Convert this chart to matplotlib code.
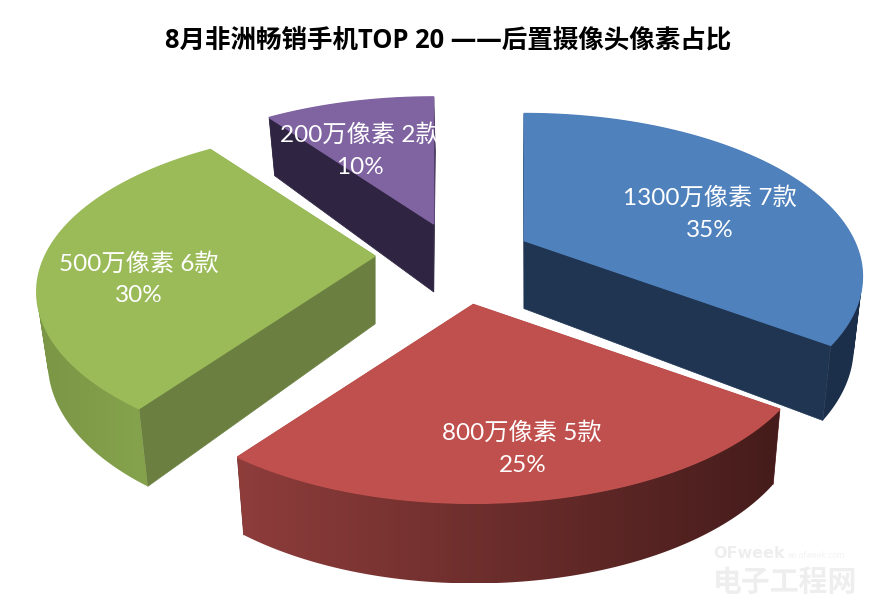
import numpy as np
import matplotlib
matplotlib.use('Agg')
import matplotlib.pyplot as plt
from matplotlib.colors import to_rgb
from matplotlib.path import Path

# Chart data
names = ['1300万像素 7款', '800万像素 5款', '500万像素 6款', '200万像素 2款']
shares = [35, 25, 30, 10]
pct_labels = ['35%', '25%', '30%', '10%']

top_colors = ['#4f81bd', '#c0504d', '#9bbb59', '#8064a2']
cut_colors = ['#1f3552', '#6e2e2c', '#6b8040', '#2f2542']
# side colours, left end and right end of the slice's outer wall
side_left = ['#1f3552', '#8e3d3b', '#7b9646', '#2f2542']
side_right = ['#1c2f4a', '#451c1b', '#8cab50', '#2f2542']

# Layout of each slice
explode = [72, 85, 85, 85]
nudge_y = [-6, 3, -6, 0]
label_r = [0.66, 0.76, 0.71, 0.75]
label_dx = [4, 2, -2, -8]
label_dy = [16, 5, 23, 22]

# Projection of the exploded pie
CX, CY = 460, 262
R = 330
TILT = 0.47
PERSP = 0.22
DEPTH = 68
SHRINK = 0.024
LABEL_FONT = ['Lato', 'Noto Sans CJK SC']


def project(apex, theta, r=1.0):
    u = r * np.sin(theta)
    v = r * np.cos(theta)
    den = 1 + PERSP * v
    return apex[0] + R * u / den, apex[1] - R * TILT * v / den, den


def drop(x, y, den):
    # lower rim of the slice, nearer points have a taller wall
    return 500 + (x - 500) * (1 - SHRINK), y + DEPTH - 55 * (den - 1)


def quad_path(pts):
    # same winding for every strip, or overlapping strips cancel out in the clip
    pts = np.array(pts)
    x, y = pts[:, 0], pts[:, 1]
    area = np.sum(x * np.roll(y, -1) - y * np.roll(x, -1))
    if area < 0:
        pts = pts[::-1]
    return Path(np.vstack([pts, pts[:1]]), closed=True)


fig = plt.figure(figsize=(8.96, 6.06), dpi=100)
ax = fig.add_axes([0, 0, 1, 1])

fractions = np.cumsum([0] + shares) / sum(shares)
order = [3, 2, 0, 1]  # back slices first
for i in order:
    t0 = 2 * np.pi * fractions[i]
    t1 = 2 * np.pi * fractions[i + 1]
    mid = (t0 + t1) / 2
    apex = (CX + explode[i] * np.sin(mid),
            CY - explode[i] * TILT * np.cos(mid) + nudge_y[i])
    thetas = np.linspace(t0, t1, 121)
    xs, ys, dens = project(apex, thetas)
    xb, yb = drop(xs, ys, dens)
    ax_, ay_ = apex
    axb, ayb = ax_, ay_ + DEPTH

    # cut faces
    for j in (0, -1):
        ax.fill([ax_, xs[j], xb[j], axb], [ay_, ys[j], yb[j], ayb],
                color=cut_colors[i], lw=0.5, zorder=2)

    # outer wall, a left to right gradient clipped to the strips of the wall
    c0 = np.array(to_rgb(side_left[i]))
    c1 = np.array(to_rgb(side_right[i]))
    grad = np.linspace(0, 1, 256)[None, :, None]
    wall_img = c0 + (c1 - c0) * grad
    strips = []
    for k in range(len(thetas) - 1):
        strips.append(quad_path([(xs[k], ys[k]), (xs[k + 1], ys[k + 1]),
                                 (xb[k + 1], yb[k + 1]), (xb[k], yb[k])]))
    img = ax.imshow(wall_img, extent=[min(xs.min(), xb.min()), max(xs.max(), xb.max()),
                                      max(ys.max(), yb.max()), min(ys.min(), yb.min())],
                    aspect='auto', zorder=3, interpolation='bilinear')
    img.set_clip_path(Path.make_compound_path(*strips), transform=ax.transData)

    # top face
    ax.fill(np.r_[ax_, xs], np.r_[ay_, ys], color=top_colors[i], lw=1, zorder=4)

    lx, ly, _ = project(apex, mid, label_r[i])
    lx += label_dx[i]
    ly += label_dy[i]
    ax.text(lx, ly - 16, names[i], color='white', fontsize=17.5, ha='center',
            va='center', family=LABEL_FONT, zorder=5)
    ax.text(lx, ly + 17, pct_labels[i], color='white', fontsize=17.5, ha='center',
            va='center', family=LABEL_FONT, zorder=5)

ax.set_xlim(0, 896)
ax.set_ylim(606, 0)
ax.axis('off')

ax.text(448, 40, '8月非洲畅销手机TOP 20 ——后置摄像头像素占比', fontsize=18.4, weight='bold',
        ha='center', va='center', color='black', family=['Open Sans', 'Noto Sans CJK SC'])

# faint watermark
ax.text(713, 554, 'OFweek', fontsize=11.5, weight='bold', color='#eeeeee', ha='left', va='center')
ax.text(788, 556, 'ee.ofweek.com', fontsize=5.5, color='#f2f2f2', ha='left', va='center')
ax.text(713, 582, '电子工程网', fontsize=20.8, weight='bold', color='#eeeeee', ha='left', va='center',
        family=['Noto Sans CJK SC'])

fig.savefig('out.png', dpi=100, facecolor='white')
